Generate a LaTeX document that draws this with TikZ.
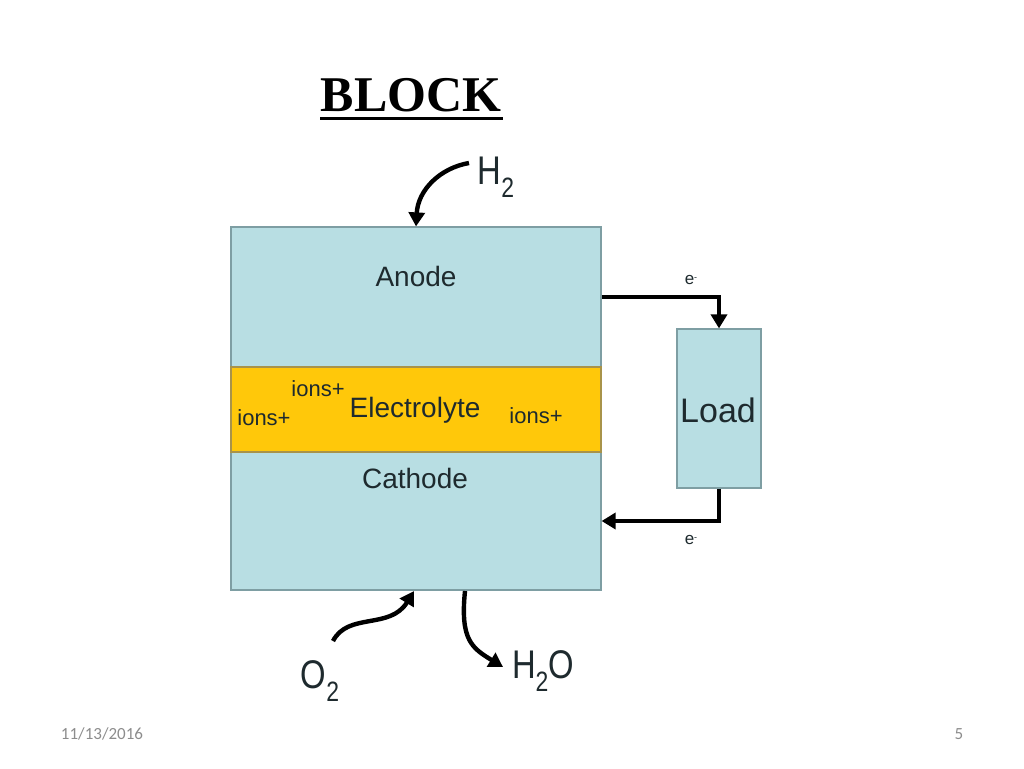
\documentclass[tikz,border=0pt]{standalone}
\usepackage{fontspec}
\setmainfont{Liberation Sans}
\newfontfamily\serifbold{Liberation Serif}
\newfontfamily\footfont{Carlito}
\usetikzlibrary{arrows.meta}
\definecolor{cellblue}{HTML}{B8DEE3}
\definecolor{cellborder}{HTML}{7E9EA3}
\definecolor{elyellow}{HTML}{FFC80A}
\definecolor{elborder}{HTML}{A8934A}
\definecolor{footgray}{HTML}{8C8C8C}
\definecolor{textdark}{HTML}{1E2A2E}
\tikzset{
  layer/.style={draw=cellborder, line width=1.2pt, fill=cellblue, minimum width=370pt, inner sep=0pt},
  lbl/.style={text=textdark, inner sep=0pt, font=\fontsize{28}{30}\selectfont},
  ionlbl/.style={text=textdark, inner sep=0pt, font=\fontsize{22}{24}\selectfont},
  elbl/.style={text=textdark, inner sep=0pt, font=\fontsize{17}{19}\selectfont},
  chem/.style={text=textdark, inner sep=0pt, font=\fontsize{40}{42}\selectfont, xscale=0.82},
  wire/.style={line width=4.4pt, -{Triangle[length=14pt,width=16pt]}},
  flow/.style={line width=4.4pt, -{Triangle[length=14pt,width=16pt]}},
}
\newcommand{\subtwo}{\raisebox{-0.6ex}{\fontsize{28}{28}\selectfont 2}}
\begin{document}
\begin{tikzpicture}[x=1pt,y=-1pt]
\useasboundingbox (0,0) rectangle (1024,768);
% title
\node[inner sep=0pt, font=\serifbold\bfseries\fontsize{50}{52}\selectfont] (title) at (411,95) {BLOCK};
\draw[line width=3pt] (320,118) -- (503,118);
% cell layers
\node[layer, minimum height=140pt] (anode) at (416,297) {};
\node[layer, minimum height=138pt] (cathode) at (416,521) {};
\node[draw=elborder, line width=2pt, fill=elyellow, minimum width=370pt, minimum height=85pt, inner sep=0pt] (electrolyte) at (416,409.5) {};
\node[lbl] (anodetxt) at (416,276) {Anode};
\node[lbl] (cathodetxt) at (415,478) {Cathode};
\node[lbl] (eltxt) at (415,410) {Electrolyte};
\node[ionlbl] (ion1) at (264,418) {ions+};
\node[ionlbl] (ion2) at (318,389) {ions+};
\node[ionlbl] (ion3) at (536,416) {ions+};
% load
\node[draw=cellborder, line width=1.2pt, fill=cellblue, minimum width=84pt, minimum height=159pt, inner sep=0pt] (load) at (719,408.5) {};
\node[inner sep=0pt, text=textdark, font=\fontsize{34}{36}\selectfont] (loadtxt) at (718,410) {Load};
% wires
\draw[wire] (anode.east) -| (load.north);
\draw[wire] (load.south) |- (cathode.east);
\node[elbl] (e1) at (691,280) {e\raisebox{0.5ex}{\fontsize{9}{9}\selectfont -}};
\node[elbl] (e2) at (691,540) {e\raisebox{0.5ex}{\fontsize{9}{9}\selectfont -}};
% gases
\node[chem] (h2) at (496,177) {H\subtwo};
\node[chem] (o2) at (320,681) {O\subtwo};
\node[chem] (h2o) at (543,671) {H\subtwo O};
\coordinate (h2start) at (469,163);
\coordinate (o2start) at (333,641);
\coordinate (h2oend) at (503,667);
\coordinate (cathin) at (414,591);
\coordinate (cathout) at (465,591);
\draw[flow] (h2start) .. controls (440,168) and (418,190) .. (anode.north);
\draw[flow] (o2start) .. controls (348,612) and (390,630) .. (cathin);
\draw[flow] (cathout) .. controls (460,640) and (472,648) .. (h2oend);
% footer
\node[inner sep=0pt, text=footgray, font=\footfont\fontsize{17}{19}\selectfont] (date) at (102,734) {11/13/2016};
\node[inner sep=0pt, text=footgray, font=\footfont\fontsize{17}{19}\selectfont] (page) at (959,734) {5};
\end{tikzpicture}
\end{document}
